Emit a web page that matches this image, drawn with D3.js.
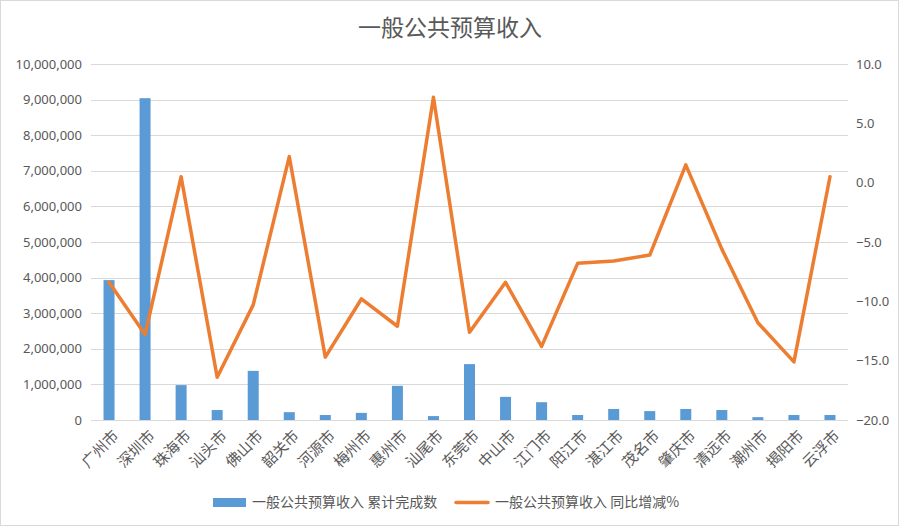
<!DOCTYPE html>
<html><head><meta charset="utf-8">
<script src="https://cdn.jsdelivr.net/npm/d3@7"></script>
<style>
html,body{margin:0;padding:0;background:#fff;}
svg{display:block;}
text{font-family:"Noto Sans CJK SC","Noto Sans",sans-serif;}
</style></head>
<body>
<svg id="c" width="901" height="528"></svg>
<script>
const categories = ["广州市","深圳市","珠海市","汕头市","佛山市","韶关市","河源市","梅州市","惠州市","汕尾市","东莞市","中山市","江门市","阳江市","湛江市","茂名市","肇庆市","清远市","潮州市","揭阳市","云浮市"];
const cumulative = [3930000,9040000,980000,280000,1380000,220000,140000,200000,960000,110000,1570000,650000,500000,140000,310000,250000,310000,280000,80000,140000,140000];
const yoyChange = [-8.4,-12.8,0.5,-16.4,-10.3,2.2,-14.7,-9.8,-12.1,7.2,-12.6,-8.4,-13.8,-6.8,-6.6,-6.1,1.5,-5.6,-11.8,-15.1,0.5];
const leftTicks = [0,1000000,2000000,3000000,4000000,5000000,6000000,7000000,8000000,9000000,10000000];
const rightTicks = [-20,-15,-10,-5,0,5,10];
const title = "一般公共预算收入";
const seriesNames = ["一般公共预算收入 累计完成数","一般公共预算收入 同比增减%"];

const svg = d3.select("#c");
const plot = {l: 91, r: 848, t: 64, b: 420};
const txt = "#595959", grid = "#D9D9D9", blue = "#5B9BD5", orange = "#ED7D31";

svg.append("rect").attr("x",0.5).attr("y",0.5).attr("width",898).attr("height",525)
  .attr("fill","#fff").attr("stroke",grid);

const x = d3.scaleBand().domain(categories).range([plot.l, plot.r]).paddingInner(0).paddingOuter(0);
const yL = d3.scaleLinear().domain([0,10000000]).range([plot.b, plot.t]);
const yR = d3.scaleLinear().domain([-20,10]).range([plot.b, plot.t]);

svg.append("g").selectAll("line").data(leftTicks).join("line")
  .attr("x1",plot.l).attr("x2",plot.r)
  .attr("y1",d=>Math.round(yL(d))+0.5).attr("y2",d=>Math.round(yL(d))+0.5)
  .attr("stroke",grid).attr("stroke-width",1);

const fmt = d3.format(",");
const axL = svg.append("g").attr("transform",`translate(${plot.l},0)`)
  .call(d3.axisLeft(yL).tickValues(leftTicks).tickFormat(fmt).tickSize(0).tickPadding(9));
axL.select(".domain").remove();
axL.selectAll("text").attr("fill",txt).style("font-size","13px").style("font-family","'Noto Sans',sans-serif");

const axR = svg.append("g").attr("transform",`translate(${plot.r},0)`)
  .call(d3.axisRight(yR).tickValues(rightTicks).tickFormat(d3.format(".1f")).tickSize(0).tickPadding(8));
axR.select(".domain").remove();
axR.selectAll("text").attr("fill",txt).style("font-size","13px").style("font-family","'Noto Sans',sans-serif");

const bw = 11;
svg.append("g").selectAll("rect").data(categories).join("rect")
  .attr("x",(d)=>x(d)+x.bandwidth()/2-bw/2)
  .attr("width",bw)
  .attr("y",(d,i)=>yL(cumulative[i]))
  .attr("height",(d,i)=>plot.b-yL(cumulative[i]))
  .attr("fill",blue);

const line = d3.line().x(d=>x(d[0])+x.bandwidth()/2).y(d=>yR(d[1]));
svg.append("path").datum(categories.map((c,i)=>[c,yoyChange[i]]))
  .attr("d",line).attr("fill","none").attr("stroke",orange)
  .attr("stroke-width",3.5).attr("stroke-linejoin","round").attr("stroke-linecap","round");

svg.append("g").selectAll("text").data(categories).join("text")
  .attr("transform",d=>`translate(${x(d)+x.bandwidth()/2+7},${plot.b+13}) rotate(-45)`)
  .attr("text-anchor","end").attr("dy","0.35em")
  .attr("fill",txt).style("font-size","15px").text(d=>d);

svg.append("text").attr("x",450).attr("y",36).attr("text-anchor","middle")
  .attr("fill",txt).style("font-size","23px").text(title);

const lg = svg.append("g");
lg.append("rect").attr("x",213).attr("y",498).attr("width",33).attr("height",9).attr("fill",blue);
lg.append("text").attr("x",252).attr("y",507).attr("fill",txt).style("font-size","14px").text(seriesNames[0]);
lg.append("line").attr("x1",456).attr("x2",488).attr("y1",502.5).attr("y2",502.5)
  .attr("stroke",orange).attr("stroke-width",3.5).attr("stroke-linecap","round");
lg.append("text").attr("x",495).attr("y",507).attr("fill",txt).style("font-size","14px").text(seriesNames[1]);
</script>
</body></html>
